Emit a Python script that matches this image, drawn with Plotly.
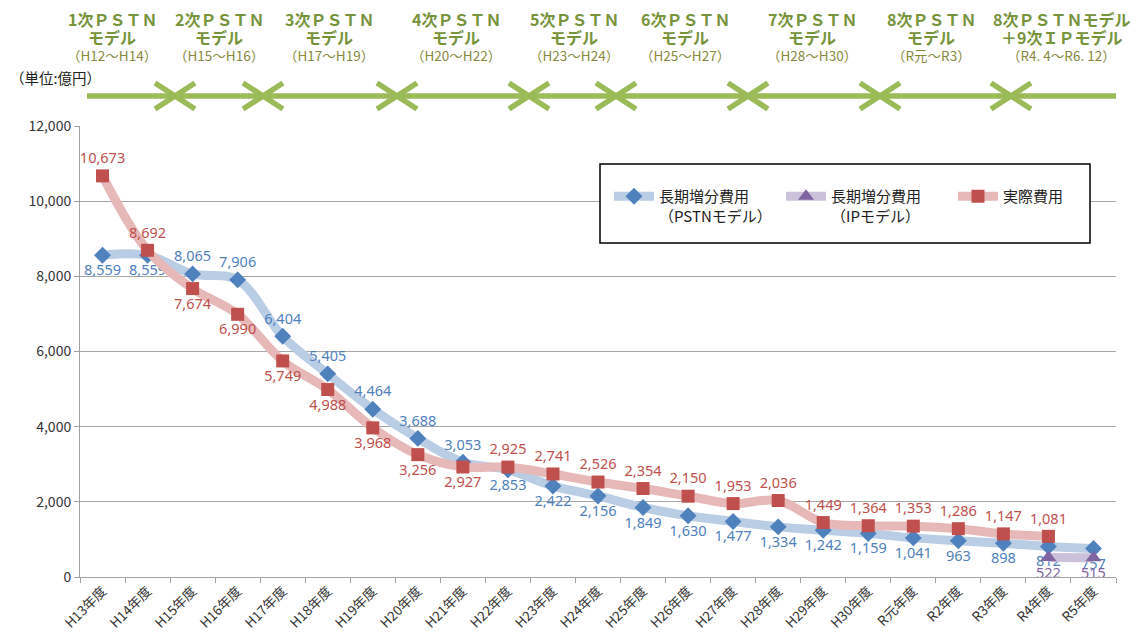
import plotly.graph_objects as go

# ---------------- data ----------------
categories = ["H13年度", "H14年度", "H15年度", "H16年度", "H17年度", "H18年度", "H19年度",
              "H20年度", "H21年度", "H22年度", "H23年度", "H24年度", "H25年度", "H26年度",
              "H27年度", "H28年度", "H29年度", "H30年度", "R元年度", "R2年度", "R3年度",
              "R4年度", "R5年度"]
pstn_cost = [8559, 8559, 8065, 7906, 6404, 5405, 4464, 3688, 3053, 2853, 2422, 2156,
             1849, 1630, 1477, 1334, 1242, 1159, 1041, 963, 898, 812, 757]
ip_categories = ["R4年度", "R5年度"]
ip_cost = [522, 515]
actual_cost = [10673, 8692, 7674, 6990, 5749, 4988, 3968, 3256, 2927, 2925, 2741, 2526,
               2354, 2150, 1953, 2036, 1449, 1364, 1353, 1286, 1147, 1081, None]

y_ticks = [0, 2000, 4000, 6000, 8000, 10000, 12000]

header_line1 = ["1次ＰＳＴＮ", "2次ＰＳＴＮ", "3次ＰＳＴＮ", "4次ＰＳＴＮ", "5次ＰＳＴＮ",
                "6次ＰＳＴＮ", "7次ＰＳＴＮ", "8次ＰＳＴＮ", "8次ＰＳＴＮモデル"]
header_line2 = ["モデル", "モデル", "モデル", "モデル", "モデル", "モデル", "モデル", "モデル",
                "＋9次ＩＰモデル"]
header_line3 = ["（H12～H14）", "（H15～H16）", "（H17～H19）", "（H20～H22）", "（H23～H24）",
                "（H25～H27）", "（H28～H30）", "（R元～R3）", "（R4. 4～R6. 12）"]

# ---------------- layout constants (page pixels) ----------------
OFF = 8  # default body margin of the html page
W_PX, H_PX = 1138 - OFF, 639 - OFF
L, R, T, B = 80, 1116, 126, 577          # plot area in page pixels
PW, PH = R - L, B - T


def px2x(px):
    return (px - L) / PW


def py2y(py):
    return (B - py) / PH


FONT = "Noto Sans CJK JP"
NUMFONT = "Noto Sans"
BLUE, BLUE_L = "#4F81BD", "#B9CDE5"
RED, RED_L = "#C0504D", "#E6B9B8"
PURP, PURP_L = "#8064A2", "#CCC1DA"
GREEN = "#9BBB59"
GREEN_T = "#77933C"
GREEN_T3 = "#86893C"

blue_pos = ["bottom center"] * 2 + ["top center"] * 7 + ["bottom center"] * 14
red_pos = ["top center"] * 2 + ["bottom center"] * 7 + ["top center"] * 14

fig = go.Figure()

fig.add_trace(go.Scatter(
    x=categories, y=pstn_cost, mode="lines+markers+text",
    name="長期増分費用<br>（PSTNモデル）",
    line=dict(color=BLUE_L, width=9, shape="spline", smoothing=1),
    marker=dict(symbol="diamond", size=13, color=BLUE),
    text=[f"{v:,}" for v in pstn_cost], textposition=blue_pos,
    textfont=dict(color=BLUE, size=14.5, family=NUMFONT), cliponaxis=False))

fig.add_trace(go.Scatter(
    x=ip_categories, y=ip_cost, mode="lines+markers+text",
    name="長期増分費用<br>（IPモデル）",
    line=dict(color=PURP_L, width=9),
    marker=dict(symbol="triangle-up", size=14, color=PURP),
    text=[f"{v:,}" for v in ip_cost], textposition="bottom center",
    textfont=dict(color=PURP, size=14.5, family=NUMFONT), cliponaxis=False))

fig.add_trace(go.Scatter(
    x=categories, y=actual_cost, mode="lines+markers+text",
    name="実際費用",
    line=dict(color=RED_L, width=9, shape="spline", smoothing=1),
    marker=dict(symbol="square", size=13, color=RED),
    text=[f"{v:,}" if v is not None else "" for v in actual_cost], textposition=red_pos,
    textfont=dict(color=RED, size=14.5, family=NUMFONT), cliponaxis=False))

shapes = []
annotations = []

# legend box
shapes.append(dict(type="rect", xref="paper", yref="paper",
                   x0=px2x(600), x1=px2x(1090), y0=py2y(243), y1=py2y(164),
                   fillcolor="white", line=dict(color="black", width=1.5), layer="above"))

# header arrow line
AY = 96
arrow_y = py2y(AY)
shapes.append(dict(type="line", xref="paper", yref="paper",
                   x0=px2x(87), x1=px2x(1116), y0=arrow_y, y1=arrow_y,
                   line=dict(color=GREEN, width=5.5)))
boundaries_px = [175, 263, 397, 529, 616, 748, 880, 1011]
ah_w, ah_h = 20, 13
for bpx in boundaries_px:
    path_r = (f"M {px2x(bpx - ah_w)},{py2y(AY - ah_h)} L {px2x(bpx)},{arrow_y} "
              f"L {px2x(bpx - ah_w)},{py2y(AY + ah_h)}")
    path_l = (f"M {px2x(bpx + ah_w)},{py2y(AY - ah_h)} L {px2x(bpx)},{arrow_y} "
              f"L {px2x(bpx + ah_w)},{py2y(AY + ah_h)}")
    for p in (path_r, path_l):
        shapes.append(dict(type="path", xref="paper", yref="paper", path=p,
                           line=dict(color=GREEN, width=5.5)))

# header texts
centers_px = [112, 219, 329, 456, 574, 685, 812, 931, 1061]
for cx, t1, t2, t3 in zip(centers_px, header_line1, header_line2, header_line3):
    annotations.append(dict(x=px2x(cx), y=py2y(19), xref="paper", yref="paper",
                            xanchor="center", yanchor="middle",
                            text=f"<b>{t1}</b>", showarrow=False,
                            font=dict(family=FONT, size=16, color=GREEN_T)))
    annotations.append(dict(x=px2x(cx), y=py2y(37), xref="paper", yref="paper",
                            xanchor="center", yanchor="middle",
                            text=f"<b>{t2}</b>", showarrow=False,
                            font=dict(family=FONT, size=16, color=GREEN_T)))
    annotations.append(dict(x=px2x(cx), y=py2y(55), xref="paper", yref="paper",
                            xanchor="center", yanchor="middle",
                            text=t3, showarrow=False,
                            font=dict(family=FONT, size=13.5, color=GREEN_T3)))

annotations.append(dict(x=px2x(OFF), y=py2y(77), xref="paper", yref="paper",
                        xanchor="left", yanchor="middle", text="（単位:億円）", showarrow=False,
                        font=dict(family=FONT, size=14.5, color="#222")))

fig.update_layout(
    width=W_PX, height=H_PX,
    margin=dict(l=L - OFF, r=W_PX - (R - OFF), t=T - OFF, b=H_PX - (B - OFF), autoexpand=False),
    paper_bgcolor="white", plot_bgcolor="white",
    font=dict(family=FONT, color="#222"),
    showlegend=True,
    legend=dict(orientation="h", x=px2x(609), y=py2y(180), xanchor="left", yanchor="top",
                bgcolor="rgba(0,0,0,0)", borderwidth=0, valign="top",
                font=dict(family=FONT, size=15, color="#222"),
                entrywidth=117, itemwidth=40),
    xaxis=dict(type="category", categoryorder="array", categoryarray=categories,
               range=[-0.5, len(categories) - 0.5], tickangle=-45, automargin=False,
               tickson="boundaries", ticks="outside", ticklen=5, tickcolor="#A0A0A0",
               showline=True, linecolor="#A0A0A0", linewidth=1, showgrid=False,
               tickfont=dict(family=FONT, size=13.5, color="#333")),
    yaxis=dict(range=[0, 12000], tickvals=y_ticks, ticktext=[f"{v:,}" for v in y_ticks],
               showgrid=True, gridcolor="#A6A6A6", gridwidth=1, automargin=False,
               showline=True, linecolor="#A0A0A0", linewidth=1,
               ticks="outside", ticklen=5, tickcolor="#A0A0A0",
               tickfont=dict(family=FONT, size=14, color="#333"), zeroline=False),
    shapes=shapes, annotations=annotations,
)

fig.write_html("out.html")
